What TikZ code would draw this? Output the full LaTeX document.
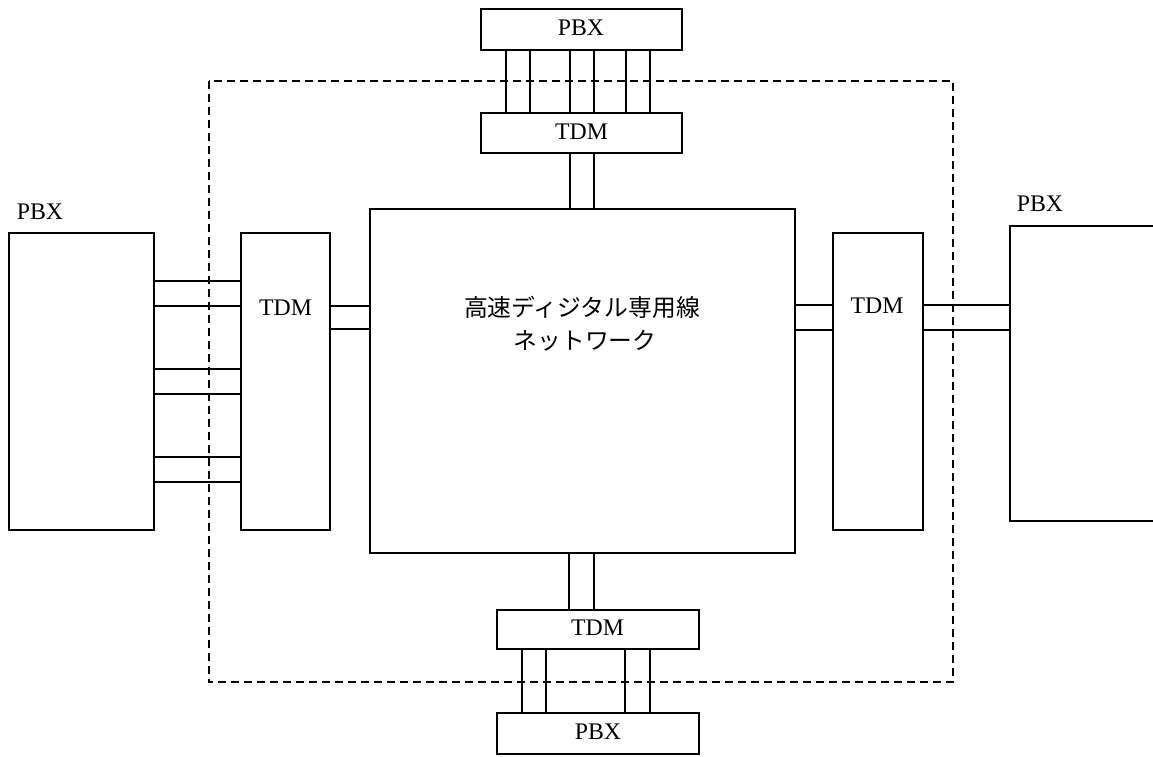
\documentclass[tikz,border=0pt]{standalone}
\usepackage{fontspec}
\setmainfont{Liberation Serif}
\newfontfamily\jp{Noto Sans CJK JP}
\usetikzlibrary{fit}
\begin{document}
\begin{tikzpicture}[x=1pt,y=-1pt,
  box/.style={draw, line width=1.4pt, rectangle, inner sep=0pt},
  link/.style={draw, line width=1.4pt, rectangle, inner sep=0pt, fill=white},
  lbl/.style={inner sep=0pt, font=\fontsize{23.8}{28}\selectfont},
  jlbl/.style={inner sep=0pt, font=\fontsize{23.8}{28}\selectfont\jp},
  dashline/.style={line width=1.6pt, dash pattern=on 8pt off 5pt}]
\useasboundingbox (0,0) rectangle (1153,756);
% dashed boundary (reference node)
\node[inner sep=0pt, fit={(209,81) (953,682)}] (bound) {};
% main boxes
\node[box, fit={(481,9) (682,50)}] (pbxT) {};
\node[box, fit={(481,113) (682,153)}] (tdmT) {};
\node[box, fit={(370,209) (795,553)}] (net) {};
\node[box, fit={(9,233) (154,530)}] (pbxL) {};
\node[box, fit={(241,233) (330,530)}] (tdmL) {};
\node[box, fit={(833,233) (923,530)}] (tdmR) {};
\node[box, fit={(1010,226) (1170,521)}] (pbxR) {};
\node[box, fit={(497,610) (699,649)}] (tdmB) {};
\node[box, fit={(497,713) (699,754)}] (pbxB) {};
% links
\node[link, fit={(506,50) (530,113)}] (t1) {};
\node[link, fit={(570,50) (594,113)}] (t2) {};
\node[link, fit={(626,50) (650,113)}] (t3) {};
\node[link, fit={(570,153) (594,209)}] (tn) {};
\node[link, fit={(154,281) (241,306)}] (l1) {};
\node[link, fit={(154,369) (241,394)}] (l2) {};
\node[link, fit={(154,457) (241,482)}] (l3) {};
\node[link, fit={(330,306) (370,329)}] (ln) {};
\node[link, fit={(795,305) (833,330)}] (rn) {};
\node[link, fit={(923,305) (1010,330)}] (rp) {};
\node[link, fit={(569,553) (594,610)}] (bn) {};
\node[link, fit={(522,649) (546,713)}] (b1) {};
\node[link, fit={(625,649) (650,713)}] (b2) {};
% dashed boundary drawn over links
\draw[dashline] (bound.north west) rectangle (bound.south east);
% labels
\node[lbl] (tPBXT) at (581,28) {PBX};
\node[lbl] (tTDMT) at (581.5,132) {TDM};
\node[lbl] (tPBXL) at (40,212) {PBX};
\node[lbl] (tTDML) at (285.5,307.5) {TDM};
\node[lbl] (tTDMR) at (877,306) {TDM};
\node[lbl] (tPBXR) at (1040,203.5) {PBX};
\node[lbl] (tTDMB) at (597.5,627.5) {TDM};
\node[lbl] (tPBXB) at (598,732) {PBX};
\node[jlbl] (tnet1) at (582,307) {高速ディジタル専用線};
\node[jlbl] (tnet2) at (585,341) {ネットワーク};
\end{tikzpicture}
\end{document}
